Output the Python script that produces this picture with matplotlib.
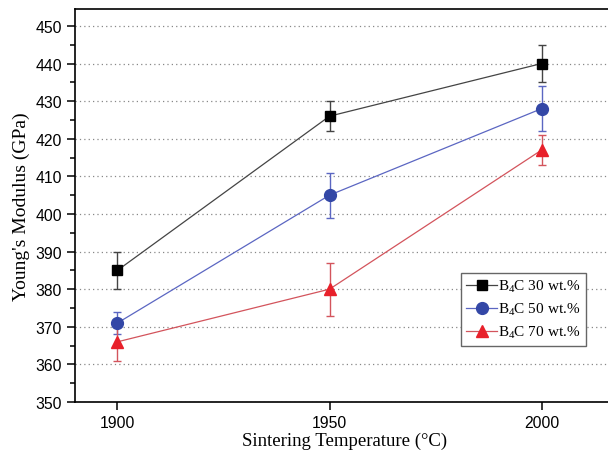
import matplotlib.pyplot as plt
from matplotlib.lines import Line2D
from matplotlib.ticker import MultipleLocator

plt.rcParams['mathtext.fontset'] = 'custom'
plt.rcParams['mathtext.rm'] = 'Liberation Serif'

temps = [1900, 1950, 2000]
ym_30 = [385, 426, 440]
err_30 = [5, 4, 5]
ym_50 = [371, 405, 428]
err_50 = [3, 6, 6]
ym_70 = [366, 380, 417]
err_70 = [5, 7, 4]
labels = [r'B$\mathregular{_4}$C 30 wt.%', r'B$\mathregular{_4}$C 50 wt.%', r'B$\mathregular{_4}$C 70 wt.%']

fig = plt.figure(figsize=(6.08, 4.52), dpi=100)
ax = fig.add_axes([75 / 608, 49 / 452, 540 / 608, 393 / 452])

ax.grid(axis='y', linestyle=(0, (1, 2.5)), color='#888888', linewidth=0.9)
ax.set_axisbelow(True)

series = [
    (ym_30, err_30, 's', 'black', '#444444', 7, labels[0]),
    (ym_50, err_50, 'o', '#3347a6', '#5b66c2', 8.5, labels[1]),
    (ym_70, err_70, '^', '#e8202a', '#d3545c', 9, labels[2]),
]
handles = []
for y, e, m, mc, lc, ms, lab in series:
    ax.errorbar(temps, y, yerr=e, fmt=m + '-', color=lc, mfc=mc, mec=mc,
                ms=ms, lw=0.9, elinewidth=1.0, capsize=3, capthick=1.0)
    handles.append(Line2D([], [], color=lc, lw=0.9, marker=m, mfc=mc, mec=mc,
                          ms=ms, label=lab))

ax.set_xlim(1890, 2017.3)
ax.set_ylim(350, 454.5)
ax.set_xticks(temps)
ax.yaxis.set_major_locator(MultipleLocator(10))
ax.yaxis.set_minor_locator(MultipleLocator(5))
ax.tick_params(axis='both', which='major', direction='out', length=6, width=1.1,
               labelsize=11.3)
ax.tick_params(axis='y', which='minor', direction='out', length=3.5, width=1.1)
for lab in ax.get_xticklabels() + ax.get_yticklabels():
    lab.set_fontfamily('Liberation Sans')
for s in ax.spines.values():
    s.set_linewidth(1.2)
ax.spines['right'].set_visible(False)

ax.set_xlabel('Sintering Temperature (°C)', family='Liberation Serif', fontsize=13.5, labelpad=1)
ax.set_ylabel("Young's Modulus (GPa)", family='Liberation Serif', fontsize=14, labelpad=4)

leg = ax.legend(handles=handles, loc='upper left',
                bbox_to_anchor=(386 / 540, (403 - 274) / 393),
                prop={'family': 'Liberation Serif', 'size': 11}, fancybox=False,
                edgecolor='#666666', framealpha=1, handlelength=2.0,
                handletextpad=0.1, borderpad=0.35, labelspacing=0.45,
                borderaxespad=0)
leg.get_frame().set_linewidth(1.0)

fig.savefig('out.png', dpi=100)
